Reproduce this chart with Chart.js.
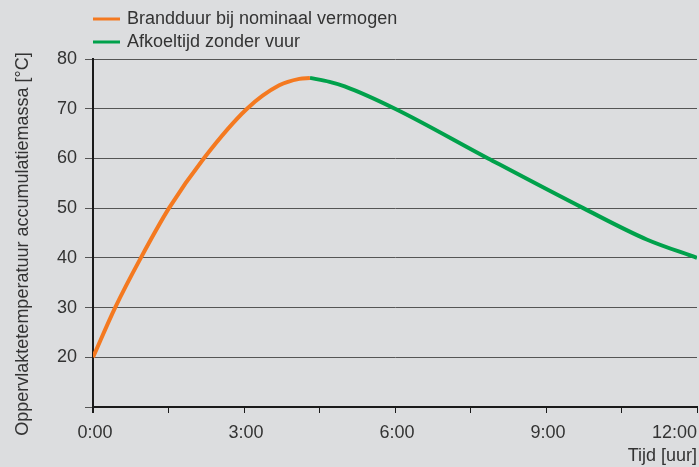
<!DOCTYPE html>
<html>
<head>
<meta charset="utf-8">
<script src="https://cdn.jsdelivr.net/npm/chart.js@4.4.1/dist/chart.umd.min.js"></script>
<style>
  html, body { margin: 0; padding: 0; background: #dcdddf; }
  #wrap { width: 699px; height: 467px; position: relative; }
</style>
</head>
<body>
<div id="wrap"><canvas id="chart"></canvas></div>
<script>
// data
const burnHours = [0, 0.44, 0.95, 1.51, 2.2, 3.06, 3.7, 4.1, 4.31];
const burnTemps = [20, 30, 40, 50, 60, 70, 74.7, 76.0, 76.2];
const coolHours = [4.31, 4.7, 5, 6, 7.85, 9.74, 11, 12];
const coolTemps = [76.2, 75.4, 74.5, 70, 60, 50, 43.7, 40];

const xTickValues = [0, 1.5, 3, 4.5, 6, 7.5, 9, 10.5, 12];
const xTickLabels = ['0:00', '', '3:00', '', '6:00', '', '9:00', '', '12:00'];
const yTickValues = [10, 20, 30, 40, 50, 60, 70, 80];
const yTickLabels = ['', '20', '30', '40', '50', '60', '70', '80'];

const seriesNames = ['Brandduur bij nominaal vermogen', 'Afkoeltijd zonder vuur'];
const seriesColors = ['#f47920', '#00a14b'];
const xTitle = 'Tijd [uur]';
const yTitle = 'Oppervlaktetemperatuur accumulatiemassa [°C]';

const textColor = '#333333';
const fontFamily = "'Liberation Sans', Arial, sans-serif";
const font = '18px ' + fontFamily;
Chart.defaults.font.family = fontFamily;
Chart.defaults.font.size = 18;
Chart.defaults.color = textColor;

function toPoints(xs, ys) {
  return xs.map((x, i) => ({ x: x, y: ys[i] }));
}

// legend in a column at the top, titles and x labels
const textPlugin = {
  id: 'textPlugin',
  afterDraw(chart) {
    const ctx = chart.ctx;
    const area = chart.chartArea;
    const scale = chart.scales.x;
    ctx.save();
    ctx.font = font;
    ctx.textBaseline = 'middle';

    chart.data.datasets.forEach((ds, i) => {
      const y = 19 + i * 23;
      ctx.strokeStyle = ds.borderColor;
      ctx.lineWidth = 3;
      ctx.beginPath();
      ctx.moveTo(area.left, y);
      ctx.lineTo(area.left + 27, y);
      ctx.stroke();
      ctx.fillStyle = textColor;
      ctx.textAlign = 'left';
      ctx.fillText(ds.label, area.left + 34, y);
    });

    ctx.fillStyle = textColor;
    xTickValues.forEach((v, i) => {
      const label = xTickLabels[i];
      if (!label) return;
      const x = scale.getPixelForValue(v);
      const w = ctx.measureText(label).width;
      if (x + w / 2 > chart.width - 1) {
        ctx.textAlign = 'right';
        ctx.fillText(label, chart.width - 2, area.bottom + 26);
      } else {
        ctx.textAlign = 'center';
        ctx.fillText(label, x + 2, area.bottom + 26);
      }
    });

    ctx.textAlign = 'right';
    ctx.fillText(xTitle, chart.width - 2, area.bottom + 49);

    ctx.translate(23, 244);
    ctx.rotate(-Math.PI / 2);
    ctx.textAlign = 'center';
    ctx.fillText(yTitle, 0, 0);
    ctx.restore();
  }
};

new Chart(document.getElementById('chart'), {
  type: 'line',
  data: {
    datasets: [{
      label: seriesNames[0],
      data: toPoints(burnHours, burnTemps),
      borderColor: seriesColors[0],
      borderWidth: 4,
      pointRadius: 0,
      cubicInterpolationMode: 'monotone',
      fill: false
    }, {
      label: seriesNames[1],
      data: toPoints(coolHours, coolTemps),
      borderColor: seriesColors[1],
      borderWidth: 4,
      pointRadius: 0,
      cubicInterpolationMode: 'monotone',
      fill: false
    }]
  },
  options: {
    responsive: true,
    maintainAspectRatio: false,
    animation: false,
    layout: { autoPadding: false, padding: { top: 59, right: 2, left: 0, bottom: 0 } },
    plugins: { legend: { display: false }, tooltip: { enabled: false } },
    scales: {
      x: {
        type: 'linear',
        min: 0,
        max: 12,
        afterBuildTicks: (scale) => { scale.ticks = xTickValues.map(v => ({ value: v })); },
        afterFit: (scale) => { scale.height = 60; },
        grid: {
          drawOnChartArea: false, drawTicks: true, tickLength: 6, color: '#1a1a1a',
          lineWidth: (c) => (c.index === 0 ? 2 : 1)
        },
        border: { color: '#1a1a1a', width: 2 },
        ticks: { display: false }
      },
      y: {
        min: 10,
        max: 80,
        afterBuildTicks: (scale) => { scale.ticks = yTickValues.map(v => ({ value: v })); },
        afterFit: (scale) => { scale.width = 93; },
        grid: { color: '#555555', lineWidth: 1, tickLength: 8 },
        border: { color: '#1a1a1a', width: 2 },
        ticks: { color: textColor, padding: 8, callback: (v, i) => yTickLabels[i] }
      }
    }
  },
  plugins: [textPlugin]
});
</script>
</body>
</html>
